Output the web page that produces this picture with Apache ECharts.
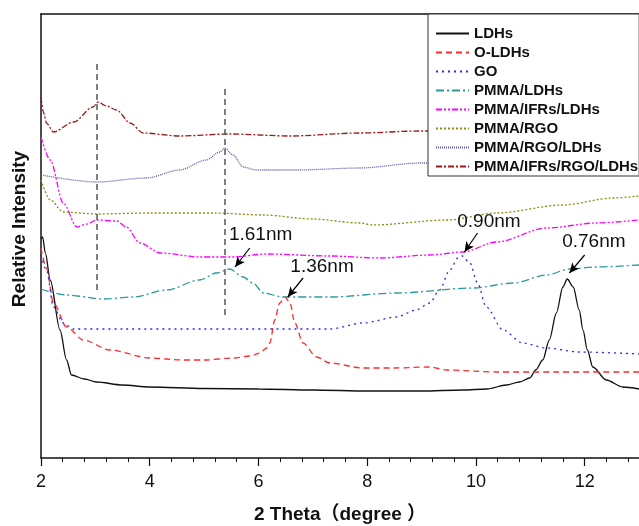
<!DOCTYPE html>
<html>
<head>
<meta charset="utf-8">
<script src="https://cdn.jsdelivr.net/npm/echarts@6/dist/echarts.min.js"></script>
<style>
  html, body { margin: 0; padding: 0; background: #fff; }
  #chart1 { width: 639px; height: 526px; }
</style>
</head>
<body>
<div id="chart1"></div>
<script>
// XRD patterns, intensity in arbitrary units
var seriesNames = ['LDHs', 'O-LDHs', 'GO', 'PMMA/LDHs', 'PMMA/IFRs/LDHs', 'PMMA/RGO', 'PMMA/RGO/LDHs', 'PMMA/IFRs/RGO/LDHs'];

var ldhs = [[2.0, 219], [2.03, 221], [2.08, 205], [2.17, 178], [2.35, 128], [2.47, 98], [2.56, 83], [2.8, 79], [3.02, 76], [3.5, 73], [4.0, 71], [5.0, 69.5], [6.0, 69], [7.0, 68], [8.0, 67], [9.0, 67], [9.76, 68], [10.2, 69], [10.56, 73], [10.8, 76], [10.99, 80], [11.1, 88], [11.23, 98], [11.35, 118], [11.48, 145], [11.6, 171], [11.68, 179], [11.79, 171], [11.9, 148], [11.97, 128], [12.05, 108], [12.15, 91], [12.4, 78], [12.7, 71], [13.0, 69]];
var oLdhs = [[2.0, 210], [2.1, 190], [2.23, 155], [2.47, 131], [2.78, 118], [3.27, 108], [4.0, 100], [4.61, 98], [5.0, 98], [5.53, 100], [5.85, 102], [6.03, 105], [6.15, 110], [6.21, 115], [6.3, 138], [6.39, 155], [6.49, 161], [6.58, 155], [6.67, 135], [6.82, 115], [7.07, 101], [7.31, 95], [7.92, 90], [8.5, 90], [9.15, 91], [9.46, 88], [10.38, 86], [11.5, 86], [13.0, 86]];
var go = [[2.0, 203], [2.1, 188], [2.23, 151], [2.41, 135], [2.6, 129], [3.5, 129], [5.0, 129], [7.31, 129], [7.92, 135], [8.54, 141], [8.9, 148], [9.15, 155], [9.33, 168], [9.52, 188], [9.67, 200], [9.75, 202], [9.89, 195], [10.03, 175], [10.19, 151], [10.5, 128], [10.86, 115], [11.3, 110], [11.9, 106], [13.0, 104]];
var pmmaLdhs = [[2.0, 169], [2.47, 163], [3.15, 159], [3.7, 161], [4.31, 168], [4.92, 178], [5.23, 185], [5.47, 189], [5.72, 181], [5.9, 175], [6.09, 165], [6.45, 161], [7.31, 161], [8.54, 165], [9.95, 170], [10.69, 175], [11.3, 183], [11.72, 189], [12.21, 191], [13.0, 193]];
var pmmaIfrsLdhs = [[2.0, 321], [2.17, 298], [2.41, 255], [2.66, 231], [2.85, 234], [3.02, 238], [3.39, 237], [3.57, 231], [3.82, 215], [4.19, 205], [4.92, 201], [5.53, 201], [6.15, 204], [7.31, 202], [8.23, 200], [9.15, 203], [9.76, 206], [10.38, 216], [11.3, 230], [12.21, 235], [13.0, 238]];
var pmmaRgo = [[2.0, 278], [2.17, 258], [2.41, 246], [3.02, 244], [4.0, 245], [5.17, 245], [6.09, 243], [7.0, 239], [7.86, 235], [8.11, 233], [9.46, 238], [10.38, 245], [11.6, 253], [12.52, 260], [13.0, 262]];
var pmmaRgoLdhs = [[2.0, 283], [3.02, 276], [3.94, 280], [4.55, 288], [5.04, 298], [5.29, 306], [5.38, 310], [5.53, 303], [5.72, 291], [5.96, 288], [6.7, 288], [7.86, 290], [8.97, 295], [10.5, 296], [13.0, 298]];
var pmmaIfrsRgoLdhs = [[2.0, 361], [2.05, 345], [2.1, 335], [2.23, 326], [2.6, 336], [2.96, 351], [3.05, 356], [3.2, 352], [3.39, 348], [3.64, 335], [3.88, 325], [4.55, 322], [5.47, 324], [6.58, 322], [7.86, 325], [8.97, 327], [13.0, 330]];

var seriesData = [ldhs, oLdhs, go, pmmaLdhs, pmmaIfrsLdhs, pmmaRgo, pmmaRgoLdhs, pmmaIfrsRgoLdhs];
var seriesColors = ['#111111', '#ff2a2a', '#2a2aff', '#2a9a9a', '#ff00ff', '#8c8c14', '#5a5aaa', '#9a1a1a'];
var seriesDash = ['solid', [6, 4], [2, 4], [8, 3, 2, 3], [6, 2, 2, 2, 2, 2], [2, 2], [1, 1], [6, 2, 2, 2]];

// vertical guide lines [x, yFrom, yTo]
var guides = [[3.02, 168, 395], [5.38, 143, 370]];
// d-spacing notes: text, text pos, arrow tail, arrow head
var notes = [
  ['1.61nm', [6.04, 223], [5.84, 210], [5.57, 191]],
  ['1.36nm', [7.17, 191], [6.82, 180], [6.54, 161]],
  ['0.90nm', [10.24, 236], [10.03, 225], [9.79, 206]],
  ['0.76nm', [12.17, 216], [12.0, 203], [11.72, 185]]
];

var chartDom = document.getElementById('chart1');
var myChart = echarts.init(chartDom);
var option;

var series = seriesNames.map(function (name, i) {
  return {
    name: name,
    type: 'line',
    data: seriesData[i],
    showSymbol: false,
    symbol: 'none',
    smooth: 0.3,
    smoothMonotone: 'x',
    color: seriesColors[i],
    lineStyle: { color: seriesColors[i], width: 1.3, type: seriesDash[i] }
  };
});

var markLines = guides.map(function (g) {
  return [
    { coord: [g[0], g[1]], symbol: 'none', lineStyle: { color: '#555', width: 1.5, type: [6, 4] } },
    { coord: [g[0], g[2]], symbol: 'none' }
  ];
}).concat(notes.map(function (n) {
  return [
    { coord: n[2], symbol: 'none', lineStyle: { color: '#000', width: 1.2, type: 'solid' } },
    { coord: n[3], symbol: 'arrow', symbolSize: [7, 10] }
  ];
}));

series.push({
  name: 'notes',
  type: 'line',
  data: [],
  silent: true,
  markLine: { silent: true, animation: false, label: { show: false }, data: markLines },
  markPoint: {
    silent: true,
    animation: false,
    symbol: 'circle',
    symbolSize: 0,
    label: { show: true, color: '#111', fontSize: 19, fontFamily: 'Arial, "Liberation Sans"' },
    data: notes.map(function (n) {
      return { coord: n[1], value: n[0], label: { formatter: n[0] } };
    })
  }
});

var axisFont = 'Arial, "Liberation Sans", "Noto Sans CJK SC"';

option = {
  animation: false,
  backgroundColor: '#fff',
  grid: { left: 41, right: 0, top: 14, bottom: 68, show: false, outerBoundsMode: 'none', containLabel: false },
  legend: {
    data: seriesNames,
    orient: 'vertical',
    left: 428,
    top: 14,
    z: 20,
    padding: [12, 1, 2, 7],
    itemWidth: 33,
    itemHeight: 14,
    itemGap: 4,
    itemStyle: { opacity: 0 },
    backgroundColor: '#fff',
    borderColor: '#333',
    borderWidth: 1,
    borderRadius: 0,
    textStyle: { fontSize: 15, lineHeight: 15, fontWeight: 'bold', color: '#111', fontFamily: axisFont }
  },
  xAxis: [
    {
      type: 'value',
      min: 2,
      max: 13,
      interval: 2,
      name: '2 Theta（degree ）',
      nameLocation: 'middle',
      nameGap: 47,
      nameTextStyle: { fontSize: 19, fontWeight: 'bold', color: '#111', fontFamily: axisFont },
      axisLine: { onZero: false, lineStyle: { color: '#111', width: 1.5 } },
      axisTick: { inside: false, length: 8, lineStyle: { color: '#111', width: 1.2 } },
      splitLine: { show: false },
      axisLabel: { fontSize: 18, color: '#111', margin: 15, showMaxLabel: false, fontFamily: axisFont }
    },
    {
      // minor ticks every 0.4
      type: 'value',
      position: 'bottom',
      min: 2,
      max: 13,
      interval: 0.4,
      axisLine: { show: false, onZero: false },
      axisTick: { inside: false, length: 4, lineStyle: { color: '#111', width: 1 } },
      axisLabel: { show: false },
      splitLine: { show: false }
    },
    {
      // top frame line
      type: 'value',
      position: 'top',
      min: 2,
      max: 13,
      axisLine: { show: true, onZero: false, lineStyle: { color: '#111', width: 1.5 } },
      axisTick: { show: false },
      axisLabel: { show: false },
      splitLine: { show: false }
    }
  ],
  yAxis: {
    type: 'value',
    min: 0,
    max: 444,
    name: 'Relative Intensity',
    nameLocation: 'middle',
    nameGap: 12,
    nameTextStyle: { fontSize: 19, fontWeight: 'bold', color: '#111', fontFamily: axisFont, padding: [0, 0, 0, 14] },
    axisLine: { show: true, onZero: false, lineStyle: { color: '#111', width: 1.5 } },
    axisTick: { show: false },
    axisLabel: { show: false },
    splitLine: { show: false }
  },
  series: series
};

option && myChart.setOption(option);
window.onresize = function() {
  myChart.resize();
};
</script>
</body>
</html>
